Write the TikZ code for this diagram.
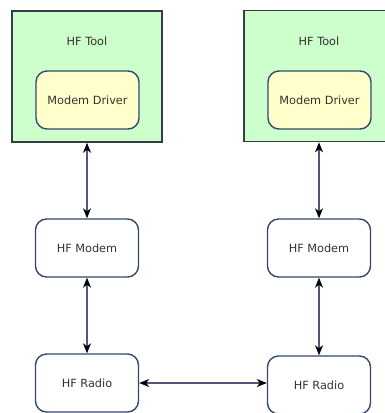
\documentclass[tikz,border=0pt]{standalone}
\usepackage{fontspec}
\setmainfont{DejaVu Sans}
\usetikzlibrary{arrows.meta}
\definecolor{toolfill}{HTML}{CCFFCC}
\definecolor{toolline}{HTML}{3A3C45}
\definecolor{drvfill}{HTML}{FFFFCC}
\definecolor{nodeline}{HTML}{34496A}
\definecolor{arrline}{HTML}{55557A}
\definecolor{txt}{HTML}{333333}
\tikzset{
  toolbox/.style={draw=toolline, fill=toolfill, line width=1.6pt, minimum width=150pt, minimum height=131pt, inner sep=0pt},
  drvbox/.style={draw=nodeline, fill=drvfill, line width=1.4pt, rounded corners=11pt, minimum width=103pt, minimum height=58pt, inner sep=0pt, text=txt},
  plainbox/.style={draw=nodeline, fill=white, line width=1.4pt, rounded corners=11pt, minimum width=103pt, minimum height=58pt, inner sep=0pt, text=txt},
  lbl/.style={text=txt, inner sep=0pt},
  link/.style={draw=arrline, line width=1.3pt, {Stealth[length=10pt,width=8pt,inset=3pt,black]}-{Stealth[length=10pt,width=8pt,inset=3pt,black]}},
}
\begin{document}
\begin{tikzpicture}[x=1pt,y=-1pt, font=\fontsize{11.3}{13}\selectfont]
\useasboundingbox (0,0) rectangle (385,413);
\begin{scope}
\clip (0,0) rectangle (385,413);
\node[toolbox] (tool1) at (87,76.5) {};
\node[toolbox] (tool2) at (319,76) {};
\node[lbl] (tl1) at (87,41) {HF Tool};
\node[lbl] (tl2) at (319,41) {HF Tool};
\node[drvbox] (drv1) at (87.5,100) {Modem Driver};
\node[drvbox] (drv2) at (319.5,100) {Modem Driver};
\node[plainbox] (modem1) at (87,248) {HF Modem};
\node[plainbox] (modem2) at (319,248) {HF Modem};
\node[plainbox] (radio1) at (87,383) {HF Radio};
\node[plainbox] (radio2) at (319,385) {HF Radio};
\draw[link] (tool1.south) -- (modem1.north);
\draw[link] (tool2.south) -- (modem2.north);
\draw[link] (modem1.south) -- (radio1.north);
\draw[link] (modem2.south) -- (radio2.north);
\draw[link] (radio1.east) -- (radio1.east -| radio2.west);
\end{scope}
\end{tikzpicture}
\end{document}
